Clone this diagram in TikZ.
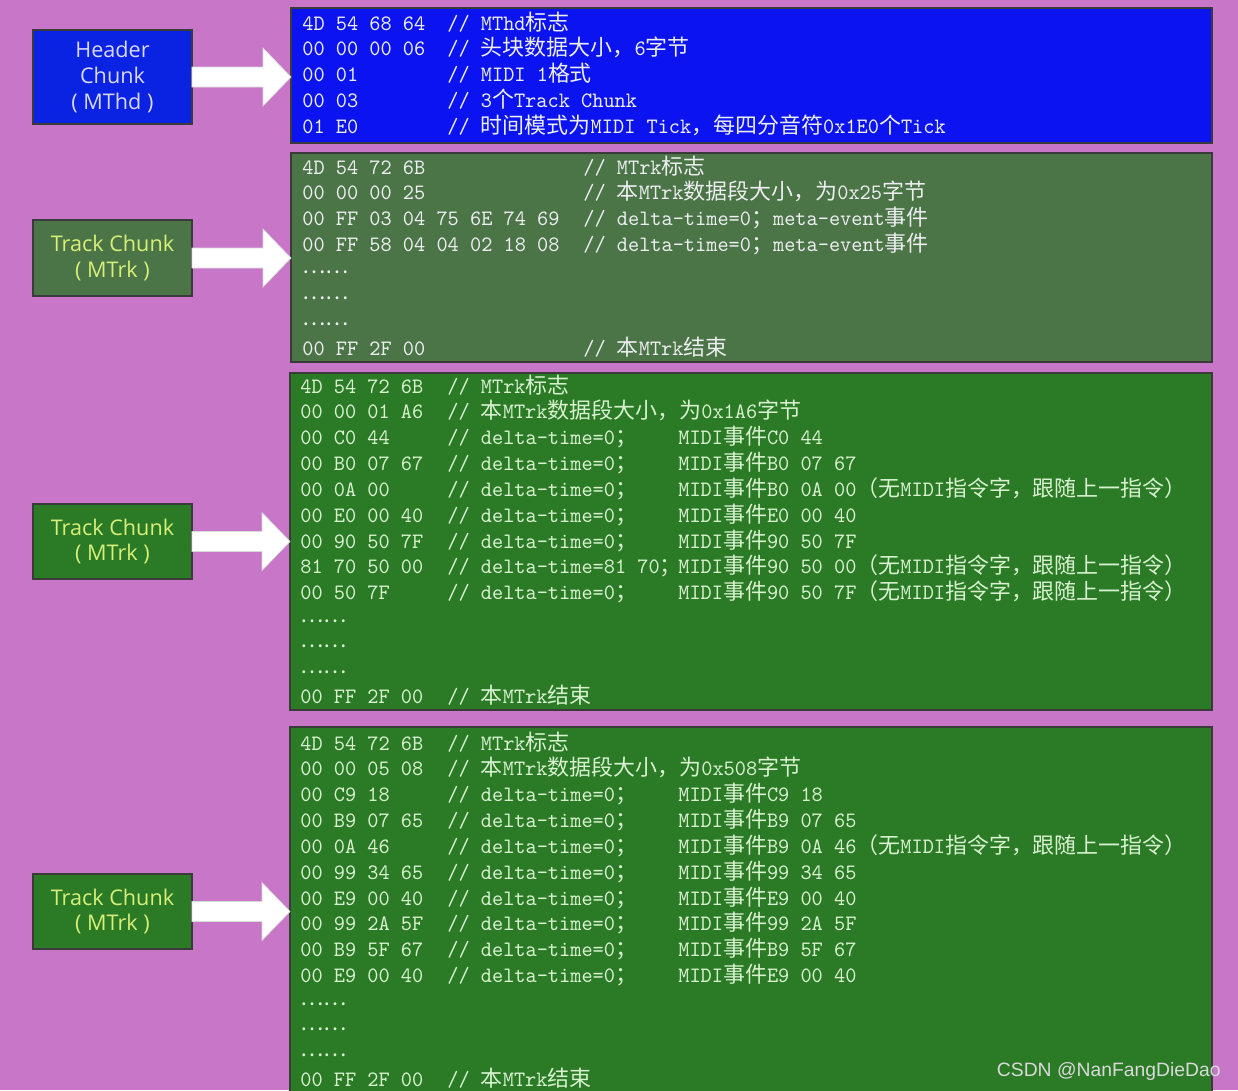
\documentclass[tikz,border=0pt]{standalone}
\usepackage{fontspec}
\usepackage{xcolor}
\usepackage{tikz}
\usetikzlibrary{calc}

\setsansfont{Open Sans}
\newfontfamily\codefont{lmmono10-regular}[Extension=.otf, FakeStretch=0.97]
\newfontfamily\cjkfont{Noto Sans CJK SC}
\newfontfamily\markfont{Liberation Sans}
\newcommand\zh[1]{{\cjkfont #1}}
\newcommand\skipdots{\raisebox{2pt}{\zh{……}}}

\definecolor{bgpink}{HTML}{C876C8}
\definecolor{hdblue}{HTML}{0B14F0}
\definecolor{lblblue}{HTML}{0A22E2}
\definecolor{metagreen}{HTML}{4B7447}
\definecolor{trkgreen}{HTML}{2B7A26}
\definecolor{edgegray}{HTML}{3A3A3A}
\definecolor{codewhite}{HTML}{ECEEF0}
\definecolor{codegreen}{HTML}{D8F2D0}
\definecolor{lblyellow}{HTML}{D8F078}

% white block arrow from a label box to its chunk box
\newcommand\fatarrow[2]{%
  \filldraw[arrowfill] ($(#1.east)+(0,-10)$) -- ($(#1.east -| #2.west)+(-28,-10)$)
    -- ($(#1.east -| #2.west)+(-28,-29)$) -- (#1.east -| #2.west)
    -- ($(#1.east -| #2.west)+(-28,29)$) -- ($(#1.east -| #2.west)+(-28,10)$)
    -- ($(#1.east)+(0,10)$) -- cycle;}

\begin{document}
\begin{tikzpicture}[x=0.02cm, y=-0.02cm,
    chunkbox/.style={draw=edgegray, line width=1.2pt, anchor=north west, inner sep=0pt, outer sep=0pt, minimum width=18.42cm},
    lblbox/.style={draw=edgegray, line width=1.2pt, anchor=north west, align=center, inner sep=0pt, outer sep=0pt,
      minimum width=3.18cm, font=\sffamily\fontsize{12.3}{14.7}\selectfont},
    code/.style={anchor=base west, inner sep=0pt, font=\codefont\fontsize{12.5}{15}\selectfont},
    arrowfill/.style={fill=white, draw=black!15, line width=0.4pt}
  ]
  \fill[bgpink] (0,0) rectangle (1238,1090);
  \useasboundingbox (0,0) rectangle (1238,1090);
  \clip (0,0) rectangle (1238,1090);

  % chunk boxes
  \node[chunkbox, fill=hdblue, minimum height=2.7cm] (mthd) at (291,8) {};
  \node[chunkbox, fill=metagreen, minimum height=4.18cm] (trk1) at (291,153) {};
  \node[chunkbox, fill=trkgreen, minimum height=6.74cm, minimum width=18.44cm] (trk2) at (290,373) {};
  \node[chunkbox, fill=trkgreen, minimum height=7.6cm, minimum width=18.44cm] (trk3) at (290,727) {};

  % labels on the left
  \node[lblbox, fill=lblblue, text=white!85!blue, minimum height=1.88cm] (hdr) at (33,30) {Header\\Chunk\\( MThd )};
  \node[lblbox, fill=metagreen, text=lblyellow, minimum height=1.52cm] (lbl1) at (33,220) {Track Chunk\\( MTrk )};
  \node[lblbox, fill=trkgreen, text=lblyellow, minimum height=1.5cm] (lbl2) at (33,504) {Track Chunk\\( MTrk )};
  \node[lblbox, fill=trkgreen, text=lblyellow, minimum height=1.5cm] (lbl3) at (33,874) {Track Chunk\\( MTrk )};

  \fatarrow{hdr}{mthd}
  \fatarrow{lbl1}{trk1}
  \fatarrow{lbl2}{trk2}
  \fatarrow{lbl3}{trk3}

  % header chunk bytes
  \foreach \hx/\nt [count=\i] in {{4D 54 68 64}/{MThd\zh{标志}},
      {00 00 00 06}/{\zh{头块数据大小，}6\zh{字节}},
      {00 01}/{MIDI 1\zh{格式}},
      {00 03}/{3\zh{个}Track Chunk},
      {01 E0}/{\zh{时间模式为}MIDI Tick\zh{，每四分音符}0x1E0\zh{个}Tick}}{
    \node[code, text=codewhite] (hd-\i) at (302,{30+25.85*(\i-1)}) {\hx};
    \node[code, text=codewhite] (hdn-\i) at (447,{30+25.85*(\i-1)}) {// \nt};
  }

  % first track chunk
  \foreach \hx/\nt [count=\i] in {{4D 54 72 6B}/{MTrk\zh{标志}},
      {00 00 00 25}/{\zh{本}MTrk\zh{数据段大小，为}0x25\zh{字节}},
      {00 FF 03 04 75 6E 74 69}/{delta-time=0\zh{；}meta-event\zh{事件}},
      {00 FF 58 04 04 02 18 08}/{delta-time=0\zh{；}meta-event\zh{事件}}}{
    \node[code, text=codewhite] (ta-\i) at (302,{174+25.85*(\i-1)}) {\hx};
    \node[code, text=codewhite] (tan-\i) at (583,{174+25.85*(\i-1)}) {// \nt};
  }
  \foreach \i in {5,6,7}
    \node[code, text=codewhite] (ta-\i) at (302,{174+25.85*(\i-1)}) {\skipdots};
  \node[code, text=codewhite] (ta-8) at (302,355) {00 FF 2F 00};
  \node[code, text=codewhite] (tan-8) at (583,355) {// \zh{本}MTrk\zh{结束}};

  % second track chunk
  \node[code, text=codegreen] (tb-1) at (300,393) {4D 54 72 6B};
  \node[code, text=codegreen] (tbn-1) at (447,393) {// MTrk\zh{标志}};
  \node[code, text=codegreen] (tb-2) at (300,418.85) {00 00 01 A6};
  \node[code, text=codegreen] (tbn-2) at (447,418.85) {// \zh{本}MTrk\zh{数据段大小，为}0x1A6\zh{字节}};
  \foreach \hx/\dt/\md [count=\i from 3] in {{00 C0 44}/{0}/{C0 44},
      {00 B0 07 67}/{0}/{B0 07 67},
      {00 0A 00}/{0}/{B0 0A 00\zh{（无}MIDI\zh{指令字，跟随上一指令）}},
      {00 E0 00 40}/{0}/{E0 00 40},
      {00 90 50 7F}/{0}/{90 50 7F},
      {81 70 50 00}/{81 70}/{90 50 00\zh{（无}MIDI\zh{指令字，跟随上一指令）}},
      {00 50 7F}/{0}/{90 50 7F\zh{（无}MIDI\zh{指令字，跟随上一指令）}}}{
    \node[code, text=codegreen] (tb-\i) at (300,{393+25.85*(\i-1)}) {\hx};
    \node[code, text=codegreen] (tbn-\i) at (447,{393+25.85*(\i-1)}) {// delta-time=\dt\zh{；}};
    \node[code, text=codegreen] (tbm-\i) at (678,{393+25.85*(\i-1)}) {MIDI\zh{事件}\md};
  }
  \foreach \i in {10,11,12}
    \node[code, text=codegreen] (tb-\i) at (300,{393+25.85*(\i-1)}) {\skipdots};
  \node[code, text=codegreen] (tb-13) at (300,703.2) {00 FF 2F 00};
  \node[code, text=codegreen] (tbn-13) at (447,703.2) {// \zh{本}MTrk\zh{结束}};

  % third track chunk
  \node[code, text=codegreen] (tc-1) at (300,750) {4D 54 72 6B};
  \node[code, text=codegreen] (tcn-1) at (447,750) {// MTrk\zh{标志}};
  \node[code, text=codegreen] (tc-2) at (300,775.85) {00 00 05 08};
  \node[code, text=codegreen] (tcn-2) at (447,775.85) {// \zh{本}MTrk\zh{数据段大小，为}0x508\zh{字节}};
  \foreach \hx/\md [count=\i from 3] in {{00 C9 18}/{C9 18},
      {00 B9 07 65}/{B9 07 65},
      {00 0A 46}/{B9 0A 46\zh{（无}MIDI\zh{指令字，跟随上一指令）}},
      {00 99 34 65}/{99 34 65},
      {00 E9 00 40}/{E9 00 40},
      {00 99 2A 5F}/{99 2A 5F},
      {00 B9 5F 67}/{B9 5F 67},
      {00 E9 00 40}/{E9 00 40}}{
    \node[code, text=codegreen] (tc-\i) at (300,{750+25.85*(\i-1)}) {\hx};
    \node[code, text=codegreen] (tcn-\i) at (447,{750+25.85*(\i-1)}) {// delta-time=0\zh{；}};
    \node[code, text=codegreen] (tcm-\i) at (678,{750+25.85*(\i-1)}) {MIDI\zh{事件}\md};
  }
  \foreach \i in {11,12,13}
    \node[code, text=codegreen] (tc-\i) at (300,{750+25.85*(\i-1)}) {\skipdots};
  \node[code, text=codegreen] (tc-14) at (300,1086) {00 FF 2F 00};
  \node[code, text=codegreen] (tcn-14) at (447,1086) {// \zh{本}MTrk\zh{结束}};

  \node[anchor=base east, inner sep=0pt, text=black!15, font=\markfont\fontsize{11}{13}\selectfont] (mark) at (1221,1076) {CSDN @NanFangDieDao};
\end{tikzpicture}
\end{document}
